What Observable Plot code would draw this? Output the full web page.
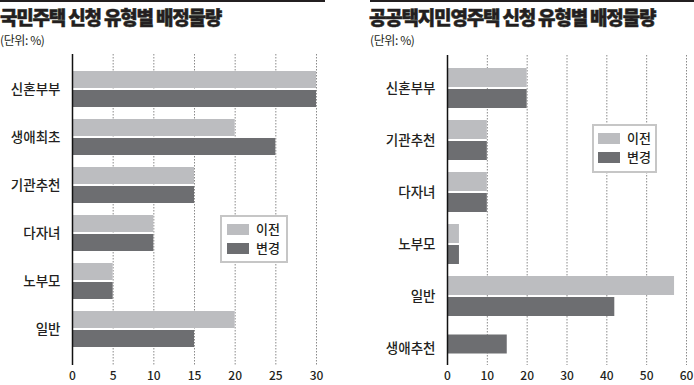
<!DOCTYPE html>
<html><head><meta charset="utf-8">
<script src="https://cdn.jsdelivr.net/npm/d3@7"></script>
<script src="https://cdn.jsdelivr.net/npm/@observablehq/plot@0.6"></script>
<style>
body{margin:0;background:#fff;font-family:"Noto Sans CJK KR",sans-serif;color:#231f20;}
#root{position:relative;width:694px;height:385px;overflow:hidden;background:#fff;}
.rule{position:absolute;top:0;height:2px;background:#231f20;}
.title{position:absolute;top:4px;font-size:19px;font-weight:900;letter-spacing:-1.2px;white-space:nowrap;line-height:26px;-webkit-text-stroke:0.5px #231f20;}
.sub{position:absolute;top:32px;font-size:12px;letter-spacing:-0.4px;white-space:nowrap;line-height:15px;}
.chart{position:absolute;top:50px;}
.legend{position:absolute;box-sizing:border-box;border:2px solid #c6c6c6;background:#fff;}
.legend .item{position:absolute;left:0;display:flex;align-items:center;font-size:13px;line-height:14px;height:14px;white-space:nowrap;font-weight:500;}
.legend .sw{display:inline-block;width:22px;height:11px;margin-right:7px;}
</style>
</head><body>
<div id="root"></div>
<script>
// ---- data ----
const seriesNames = ["이전", "변경"];
const seriesColors = ["#bcbdc0", "#6d6e71"];

const leftTitle = "국민주택 신청 유형별 배정물량";
const leftCats = ["신혼부부", "생애최초", "기관추천", "다자녀", "노부모", "일반"];
const leftBefore = [30, 20, 15, 10, 5, 20];
const leftAfter  = [30, 25, 15, 10, 5, 15];
const leftTicks  = [0, 5, 10, 15, 20, 25, 30];

const rightTitle = "공공택지민영주택 신청 유형별 배정물량";
const rightCats = ["신혼부부", "기관추천", "다자녀", "노부모", "일반", "생애추천"];
const rightBefore = [20, 10, 10, 3, 57, null];
const rightAfter  = [20, 10, 10, 3, 42, 15];
const rightTicks  = [0, 10, 20, 30, 40, 50, 60];

const unitLabel = "(단위: %)";

// ---- drawing ----
const root = document.getElementById("root");

function el(tag, cls, style, text) {
  const e = document.createElement(tag);
  if (cls) e.className = cls;
  Object.assign(e.style, style || {});
  if (text != null) e.textContent = text;
  root.appendChild(e);
  return e;
}

function makeChart(cfg) {
  const rows = [];
  cfg.cats.forEach((c, i) => {
    const b = cfg.before[i], a = cfg.after[i];
    const single = (b == null) !== (a == null);
    if (b != null) rows.push({cat: c, series: seriesNames[0], value: b, single});
    if (a != null) rows.push({cat: c, series: seriesNames[1], value: a, single});
  });
  const bw = d3.scaleBand().domain(cfg.cats).range(cfg.yRange)
    .paddingInner(cfg.padInner).paddingOuter(0).bandwidth();
  const half = bw / 2 + 1;
  const common = {x: "value", y: "cat", fill: "series"};
  const svg = Plot.plot({
    width: cfg.width,
    height: 335,
    marginLeft: cfg.marginLeft,
    marginRight: cfg.marginRight,
    marginTop: cfg.marginTop,
    marginBottom: 20,
    style: {fontFamily: "'Noto Sans CJK KR', sans-serif", color: "#231f20", background: "transparent", fontWeight: 500},
    x: {domain: [cfg.ticks[0], cfg.ticks[cfg.ticks.length - 1]]},
    y: {domain: cfg.cats, range: cfg.yRange, paddingInner: cfg.padInner, paddingOuter: 0},
    color: {domain: seriesNames, range: seriesColors},
    marks: [
      Plot.gridX(cfg.ticks, {stroke: "#8a8a8a", strokeOpacity: 1, strokeWidth: 1, strokeDasharray: "1.5,1.5"}),
      Plot.barX(rows.filter(d => !d.single && d.series === seriesNames[0]), {...common, insetBottom: half}),
      Plot.barX(rows.filter(d => !d.single && d.series === seriesNames[1]), {...common, insetTop: half}),
      Plot.barX(rows.filter(d => d.single), {...common, insetTop: cfg.singleInset[0], insetBottom: cfg.singleInset[1]}),
      Plot.ruleX([0], {stroke: "#111", strokeWidth: 1.5}),
      Plot.axisY({tickSize: 0, tickPadding: 12, fontSize: 13.5, label: null}),
      Plot.axisX({ticks: cfg.ticks, tickSize: 0, tickPadding: 6, fontSize: 12, label: null})
    ]
  });
  svg.classList.add("chart");
  svg.style.left = cfg.left + "px";
  svg.style.top = "50px";
  svg.style.position = "absolute";
  root.appendChild(svg);
}

function makeLegend(pos) {
  const box = el("div", "legend", {left: pos.left + "px", top: pos.top + "px", width: pos.w + "px", height: pos.h + "px"});
  seriesNames.forEach((name, i) => {
    const item = document.createElement("div");
    item.className = "item";
    item.style.left = pos.pad + "px";
    item.style.top = (pos.first + i * 19) + "px";
    const sw = document.createElement("span");
    sw.className = "sw";
    sw.style.background = seriesColors[i];
    item.appendChild(sw);
    item.appendChild(document.createTextNode(name));
    box.appendChild(item);
  });
}

// left panel
el("div", "rule", {left: "0px", width: "325px"});
el("div", "title", {left: "0px"}, leftTitle);
el("div", "sub", {left: "0px"}, unitLabel);
makeChart({cats: leftCats, before: leftBefore, after: leftAfter, ticks: leftTicks,
  left: 0, width: 347, marginLeft: 72, marginRight: 31, marginTop: 4,
  yRange: [20, 298], padInner: 0.256, singleInset: [9, 9]});
makeLegend({left: 220, top: 215, w: 68, h: 48, pad: 5, first: 5});

// right panel
el("div", "rule", {left: "370px", width: "324px"});
el("div", "title", {left: "369px"}, rightTitle);
el("div", "sub", {left: "370px"}, unitLabel);
makeChart({cats: rightCats, before: rightBefore, after: rightAfter, ticks: rightTicks,
  left: 347, width: 347, marginLeft: 100, marginRight: 8, marginTop: 5,
  yRange: [17, 319.5], padInner: 0.238, singleInset: [6.5, 14.5]});
makeLegend({left: 592, top: 124, w: 65, h: 49, pad: 4, first: 5});
</script>
</body></html>
